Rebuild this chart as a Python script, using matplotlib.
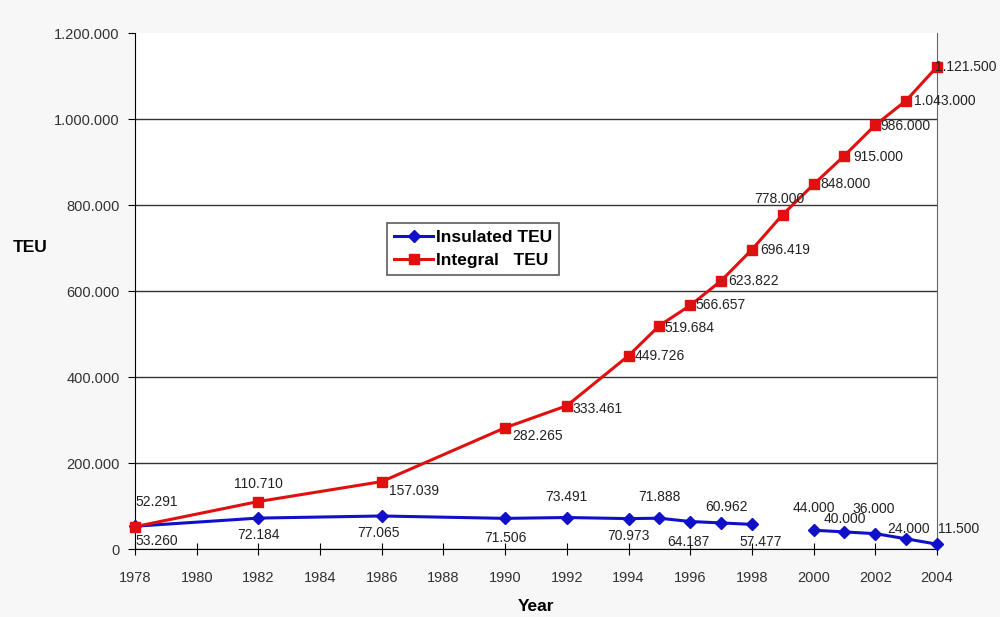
import numpy as np
import matplotlib.pyplot as plt

plt.rcParams['font.family'] = ['Liberation Sans', 'DejaVu Sans']

# data
years = [1978, 1982, 1986, 1990, 1992, 1994, 1995, 1996, 1997, 1998,
         1999, 2000, 2001, 2002, 2003, 2004]
integral_teu = [52291, 110710, 157039, 282265, 333461, 449726, 519684, 566657,
                623822, 696419, 778000, 848000, 915000, 986000, 1043000, 1121500]
insulated_teu = [53260, 72184, 77065, 71506, 73491, 70973, 71888, 64187,
                 60962, 57477, np.nan, 44000, 40000, 36000, 24000, 11500]
yticks = [0, 200000, 400000, 600000, 800000, 1000000, 1200000]


def fmt(v):
    return f"{int(v):,}".replace(',', '.')


# label offsets in pixels (dx, dy, ha)
integral_off = [(0, 25, 'left'), (0, 18, 'center'), (7, -9, 'left'), (7, -8, 'left'),
                (6, -3, 'left'), (6, 0, 'left'), (5, -2, 'left'), (5, 0, 'left'),
                (7, 0, 'left'), (8, 0, 'left'), (-3, 16, 'center'), (7, 0, 'left'),
                (9, -1, 'left'), (5, -1, 'left'), (8, 0, 'left'), (-2, 0, 'left')]
insulated_off = [(0, -15, 'left'), (0, -17, 'center'), (-3, -17, 'center'),
                 (0, -20, 'center'), (0, 21, 'center'), (0, -17, 'center'),
                 (0, 21, 'center'), (-2, -20, 'center'), (5, 16, 'center'),
                 (9, -18, 'center'), None, (0, 22, 'center'), (0, 13, 'center'),
                 (-2, 25, 'center'), (2, 10, 'center'), (1, 15, 'left')]

fig = plt.figure(figsize=(10, 6.17), dpi=100, facecolor='#f6f7f6')
ax = fig.add_axes([0.135, 0.110, 0.802, 0.8365])
ax.set_facecolor('white')

ax.plot(years, insulated_teu, color='#1010c8', lw=2.2, marker='D', ms=6,
        label='Insulated TEU', zorder=3, clip_on=False)
ax.plot(years, integral_teu, color='#e01010', lw=2.2, marker='s', ms=7,
        label='Integral   TEU', zorder=4, clip_on=False)

for x, v, o in zip(years, integral_teu, integral_off):
    ax.annotate(fmt(v), (x, v), xytext=(o[0], o[1]), textcoords='offset pixels',
                ha=o[2], va='center', fontsize=10, color='#222222', zorder=5)
for x, v, o in zip(years, insulated_teu, insulated_off):
    if o is None:
        continue
    ax.annotate(fmt(v), (x, v), xytext=(o[0], o[1]), textcoords='offset pixels',
                ha=o[2], va='center', fontsize=10, color='#222222', zorder=5)

ax.set_xlim(1978, 2004)
ax.set_ylim(0, 1200000)
ax.set_xticks(range(1978, 2005, 2))
ax.set_yticks(yticks)
ax.set_yticklabels([fmt(v) for v in yticks])
ax.tick_params(axis='both', labelsize=10.5, labelcolor='#333333')
ax.tick_params(axis='x', direction='inout', length=8, pad=12)
ax.tick_params(axis='y', direction='out', length=5, pad=6)

ax.grid(axis='y', color='#333333', lw=1)
ax.set_axisbelow(True)
ax.yaxis.get_gridlines()[-1].set_visible(False)
ax.spines['top'].set_visible(False)
ax.spines['right'].set_color('#666666')

ax.set_xlabel('Year', fontsize=12.5, fontweight='bold', labelpad=10)
ax.set_ylabel('TEU', fontsize=12.5, fontweight='bold', rotation=0, labelpad=0)
ax.yaxis.set_label_coords(-0.131, 0.57)

leg = ax.legend(loc='upper left', bbox_to_anchor=(0.304, 0.649),
                prop={'weight': 'bold', 'size': 12.5}, fancybox=False,
                edgecolor='#333333', handlelength=2.2, handletextpad=0.2,
                borderpad=0.4, labelspacing=0.45)
leg.get_frame().set_linewidth(1.2)

plt.savefig('out.png', dpi=100, facecolor=fig.get_facecolor())
